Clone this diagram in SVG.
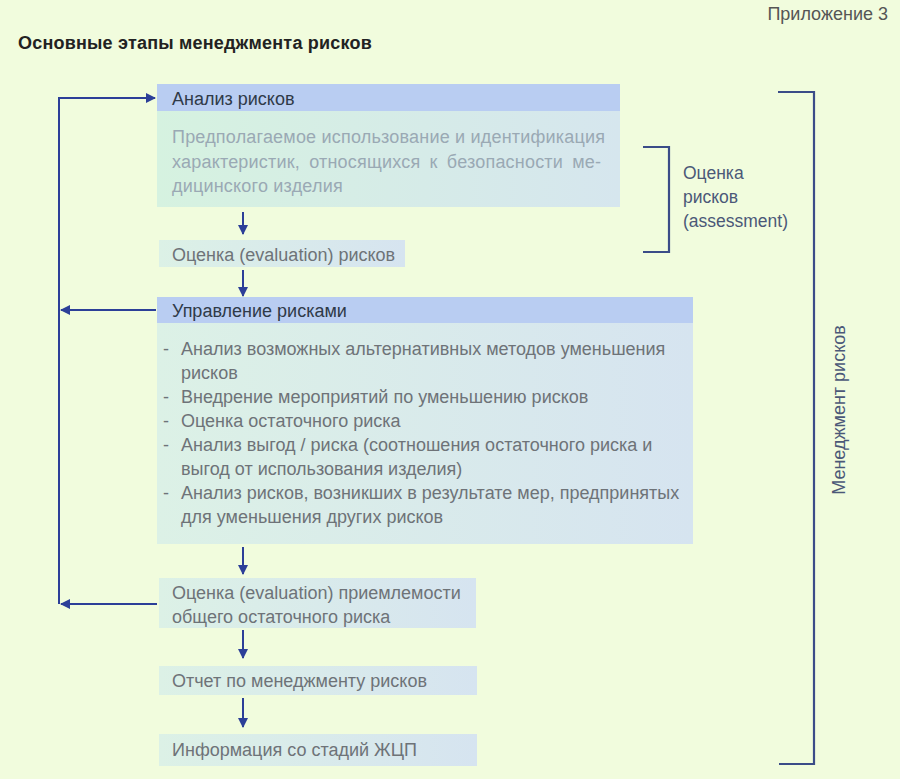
<svg xmlns="http://www.w3.org/2000/svg" width="900" height="779" viewBox="0 0 900 779">
<style>
text{font-family:"Liberation Sans","DejaVu Sans",sans-serif}
.hd{fill:#b9cdf2}
.t{font-size:18px;fill:#6e7378}
.th{font-size:18px;fill:#2f3a48}
.tl{font-size:18px;fill:#9aa9b4;letter-spacing:0.2px}
.ln{stroke:#2c3f98;stroke-width:2;fill:none}
.br{stroke:#3b4c88;stroke-width:2.2;fill:none}
.lb{font-size:17.5px;fill:#4b5878}
</style>
<defs>
<linearGradient id="g1" x1="0" y1="0" x2="1" y2="0">
<stop offset="0" stop-color="#d6f2e0"/><stop offset="1" stop-color="#d6e6ee"/>
</linearGradient>
<linearGradient id="g2" x1="0" y1="0" x2="1" y2="0">
<stop offset="0" stop-color="#dcf1e6"/><stop offset="1" stop-color="#d6e4f0"/>
</linearGradient>
<marker id="ah" viewBox="0 0 10 10" refX="9" refY="5" markerWidth="5" markerHeight="5" orient="auto-start-reverse" markerUnits="strokeWidth">
<path d="M0,0 L10,5 L0,10 z" fill="#2c3f98"/>
</marker>
</defs>
<rect width="900" height="779" fill="#f1fcdd"/>
<text x="888" y="20" text-anchor="end" style="font-size:18px;fill:#555">Приложение 3</text>
<text x="18" y="49" style="font-size:18px;font-weight:bold;fill:#222;letter-spacing:0.2px">Основные этапы менеджмента рисков</text>

<g id="analysis">
<rect x="157" y="111" width="463" height="96" fill="url(#g1)"/>
<rect x="157" y="84" width="463" height="27" class="hd"/>
<text x="172" y="105" class="th">Анализ рисков</text>
<text class="tl"><tspan x="172" y="143">Предполагаемое использование и идентификация</tspan><tspan x="172" y="168" style="word-spacing:4px">характеристик, относящихся к безопасности ме-</tspan><tspan x="172" y="192">дицинского изделия</tspan></text>
</g>

<g id="evaluation">
<rect x="159" y="240" width="246" height="27" fill="url(#g2)"/>
<text x="172" y="261" class="t">Оценка (evaluation) рисков</text>
</g>

<g id="control">
<rect x="157" y="323" width="536" height="221" fill="url(#g2)"/>
<rect x="157" y="297" width="536" height="26" class="hd"/>
<text x="172" y="317" class="th">Управление рисками</text>
<text class="t">
<tspan x="163" y="355">-</tspan><tspan x="181" y="355">Анализ возможных альтернативных методов уменьшения</tspan>
<tspan x="181" y="379">рисков</tspan>
<tspan x="163" y="403">-</tspan><tspan x="181" y="403">Внедрение мероприятий по уменьшению рисков</tspan>
<tspan x="163" y="427">-</tspan><tspan x="181" y="427">Оценка остаточного риска</tspan>
<tspan x="163" y="451">-</tspan><tspan x="181" y="451">Анализ выгод / риска (соотношения остаточного риска и</tspan>
<tspan x="181" y="475">выгод от использования изделия)</tspan>
<tspan x="163" y="499">-</tspan><tspan x="181" y="499">Анализ рисков, возникших в результате мер, предпринятых</tspan>
<tspan x="181" y="523">для уменьшения других рисков</tspan>
</text>
</g>

<g id="acceptability">
<rect x="159" y="578" width="317" height="50" fill="url(#g2)"/>
<text class="t"><tspan x="172" y="599">Оценка (evaluation) приемлемости</tspan><tspan x="172" y="623">общего остаточного риска</tspan></text>
</g>

<g id="report">
<rect x="159" y="666" width="318" height="29" fill="url(#g2)"/>
<text x="172" y="687" class="t">Отчет по менеджменту рисков</text>
</g>

<g id="info">
<rect x="159" y="734" width="318" height="32" fill="url(#g2)"/>
<text x="172" y="756" class="t">Информация со стадий ЖЦП</text>
</g>

<g id="assessment-bracket">
<path d="M643,147 H669 V252 H643" class="br"/>
<text class="lb"><tspan x="683" y="179">Оценка</tspan><tspan x="683" y="203">рисков</tspan><tspan x="683" y="227">(assessment)</tspan></text>
</g>

<g id="management-bracket">
<path d="M778,92 H814 V764 H779" class="br"/>
<text transform="translate(845,410) rotate(-90)" text-anchor="middle" style="font-size:18px;fill:#4b5878">Менеджмент рисков</text>
</g>

<g id="connectors">
<line x1="243" y1="212" x2="243" y2="234" class="ln" marker-end="url(#ah)"/>
<line x1="243" y1="270" x2="243" y2="296" class="ln" marker-end="url(#ah)"/>
<line x1="243" y1="547" x2="243" y2="574" class="ln" marker-end="url(#ah)"/>
<line x1="243" y1="630" x2="243" y2="658" class="ln" marker-end="url(#ah)"/>
<line x1="243" y1="698" x2="243" y2="727" class="ln" marker-end="url(#ah)"/>
<path d="M59,604 V98 H155" class="ln" marker-end="url(#ah)"/>
<line x1="156" y1="310" x2="61" y2="310" class="ln" marker-end="url(#ah)"/>
<line x1="157" y1="604" x2="61" y2="604" class="ln" marker-end="url(#ah)"/>
</g>
</svg>
